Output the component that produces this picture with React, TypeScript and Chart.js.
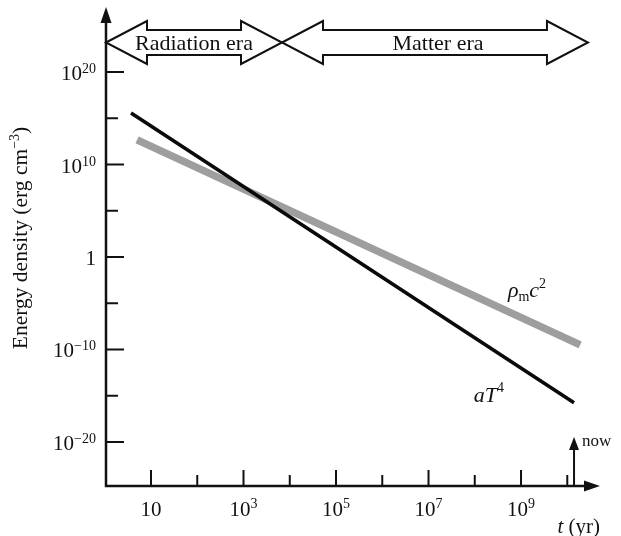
import React, { useEffect, useRef } from "react";
import { Chart, registerables } from "chart.js";

Chart.register(...registerables);

// ---- data ----
const radiationT = [3.7, 1.4e10];
const radiationDensity = [3.7e15, 1.7e-16];
const matterT = [5.0, 1.9e10];
const matterDensity = [4.5e12, 3.1e-10];

const X_MIN = 1.064;
const X_MAX = 5.1e10;
const Y_MIN = 1.74e-25;
const Y_MAX = 1.07e27;

const Y_TICK_MAJOR = [1e-20, 1e-10, 1, 1e10, 1e20];
const Y_TICK_LABELS: [string, string][] = [
  ["10", "\u221220"],
  ["10", "\u221210"],
  ["1", ""],
  ["10", "10"],
  ["10", "20"],
];
const Y_TICK_MINOR = [1e-15, 1e-5, 1e5, 1e15];
const X_TICK_MAJOR = [10, 1e3, 1e5, 1e7, 1e9];
const X_TICK_LABELS: [string, string][] = [
  ["10", ""],
  ["10", "3"],
  ["10", "5"],
  ["10", "7"],
  ["10", "9"],
];
const X_TICK_MINOR = [100, 1e4, 1e6, 1e8, 1e10];

const ERA_BOUNDARY = 6.8e3; // radiation/matter equality
const ERA_END = 2.8e10;
const NOW_T = 1.4e10;
const RHO_LABEL_AT = { x: 5.2e8, y: 4.8e-5 };
const AT4_LABEL_AT = { x: 9.5e7, y: 2.1e-16 };

const SERIF = "'Liberation Serif', 'DejaVu Serif', serif";

type Seg = { t: string; size: number; dy?: number; italic?: boolean };

function drawRich(ctx: CanvasRenderingContext2D, segs: Seg[], x: number, y: number, align: "left" | "center" | "right") {
  ctx.textAlign = "left";
  ctx.textBaseline = "alphabetic";
  const widths = segs.map((s) => {
    ctx.font = `${s.italic ? "italic " : ""}${s.size}px ${SERIF}`;
    return ctx.measureText(s.t).width;
  });
  const total = widths.reduce((a, b) => a + b, 0);
  let cx = align === "left" ? x : align === "center" ? x - total / 2 : x - total;
  segs.forEach((s, i) => {
    ctx.font = `${s.italic ? "italic " : ""}${s.size}px ${SERIF}`;
    ctx.fillText(s.t, cx, y + (s.dy || 0));
    cx += widths[i];
  });
}

function doubleArrow(ctx: CanvasRenderingContext2D, x1: number, x2: number, cy: number) {
  const h = 41, s = 12.5, H = 21.5;
  ctx.beginPath();
  ctx.moveTo(x1, cy);
  ctx.lineTo(x1 + h, cy - H);
  ctx.lineTo(x1 + h, cy - s);
  ctx.lineTo(x2 - h, cy - s);
  ctx.lineTo(x2 - h, cy - H);
  ctx.lineTo(x2, cy);
  ctx.lineTo(x2 - h, cy + H);
  ctx.lineTo(x2 - h, cy + s);
  ctx.lineTo(x1 + h, cy + s);
  ctx.lineTo(x1 + h, cy + H);
  ctx.closePath();
  ctx.fillStyle = "#fff";
  ctx.fill();
  ctx.lineWidth = 2;
  ctx.strokeStyle = "#111";
  ctx.stroke();
}

const decorPlugin = {
  id: "decor",
  afterDraw(chart: any) {
    const { ctx, chartArea } = chart;
    const { left, right, top, bottom } = chartArea;
    const xs = chart.scales.x;
    const ys = chart.scales.y;
    ctx.save();
    ctx.strokeStyle = "#111";
    ctx.fillStyle = "#111";
    ctx.lineCap = "butt";

    // axes
    ctx.lineWidth = 2.5;
    ctx.beginPath();
    ctx.moveTo(left, bottom);
    ctx.lineTo(left, top + 12);
    ctx.moveTo(left - 1.25, bottom);
    ctx.lineTo(right - 12, bottom);
    ctx.stroke();
    ctx.beginPath();
    ctx.moveTo(left, top);
    ctx.lineTo(left - 5.5, top + 16);
    ctx.lineTo(left + 5.5, top + 16);
    ctx.closePath();
    ctx.fill();
    ctx.beginPath();
    ctx.moveTo(right, bottom);
    ctx.lineTo(right - 16, bottom - 5.5);
    ctx.lineTo(right - 16, bottom + 5.5);
    ctx.closePath();
    ctx.fill();

    // ticks
    ctx.lineWidth = 2;
    ctx.beginPath();
    Y_TICK_MAJOR.forEach((v) => {
      const py = ys.getPixelForValue(v);
      ctx.moveTo(left, py);
      ctx.lineTo(left + 18, py);
    });
    Y_TICK_MINOR.forEach((v) => {
      const py = ys.getPixelForValue(v);
      ctx.moveTo(left, py);
      ctx.lineTo(left + 12, py);
    });
    X_TICK_MAJOR.forEach((v) => {
      const px = xs.getPixelForValue(v);
      ctx.moveTo(px, bottom);
      ctx.lineTo(px, bottom - 16);
    });
    X_TICK_MINOR.forEach((v) => {
      const px = xs.getPixelForValue(v);
      ctx.moveTo(px, bottom);
      ctx.lineTo(px, bottom - 11);
    });
    ctx.stroke();

    // tick labels
    ctx.fillStyle = "#111";
    Y_TICK_MAJOR.forEach((v, i) => {
      const py = ys.getPixelForValue(v);
      const [b, e] = Y_TICK_LABELS[i];
      const segs: Seg[] = [{ t: b, size: 21 }];
      if (e) segs.push({ t: e, size: 14, dy: -7 });
      drawRich(ctx, segs, left - 10, py + 8, "right");
    });
    X_TICK_MAJOR.forEach((v, i) => {
      const px = xs.getPixelForValue(v);
      const [b, e] = X_TICK_LABELS[i];
      const segs: Seg[] = [{ t: b, size: 21 }];
      if (e) segs.push({ t: e, size: 14, dy: -8 });
      drawRich(ctx, segs, px, bottom + 30, "center");
    });

    // axis titles
    ctx.save();
    ctx.translate(27, 238);
    ctx.rotate(-Math.PI / 2);
    drawRich(
      ctx,
      [
        { t: "Energy density (erg cm", size: 21.5 },
        { t: "\u22123", size: 14, dy: -8 },
        { t: ")", size: 21.5 },
      ],
      0,
      0,
      "center"
    );
    ctx.restore();
    drawRich(
      ctx,
      [
        { t: "t", size: 21, italic: true },
        { t: " (yr)", size: 21 },
      ],
      right,
      533,
      "right"
    );

    // now marker
    const nx = xs.getPixelForValue(NOW_T);
    ctx.lineWidth = 2;
    ctx.beginPath();
    ctx.moveTo(nx, bottom);
    ctx.lineTo(nx, bottom - 38);
    ctx.stroke();
    ctx.beginPath();
    ctx.moveTo(nx, bottom - 49);
    ctx.lineTo(nx - 5, bottom - 36);
    ctx.lineTo(nx + 5, bottom - 36);
    ctx.closePath();
    ctx.fill();
    drawRich(ctx, [{ t: "now", size: 17 }], nx + 8, bottom - 40, "left");

    // series labels
    const rx = xs.getPixelForValue(RHO_LABEL_AT.x);
    const ry = ys.getPixelForValue(RHO_LABEL_AT.y);
    drawRich(
      ctx,
      [
        { t: "\u03C1", size: 22, italic: true },
        { t: "m", size: 14, dy: 4 },
        { t: "c", size: 22, italic: true },
        { t: "2", size: 14, dy: -9 },
      ],
      rx,
      ry,
      "left"
    );
    const ax = xs.getPixelForValue(AT4_LABEL_AT.x);
    const ay = ys.getPixelForValue(AT4_LABEL_AT.y);
    drawRich(
      ctx,
      [
        { t: "aT", size: 22, italic: true },
        { t: "4", size: 14, dy: -10 },
      ],
      ax,
      ay,
      "left"
    );

    // era arrows
    const bx = xs.getPixelForValue(ERA_BOUNDARY);
    const ex = xs.getPixelForValue(ERA_END);
    doubleArrow(ctx, left, bx, 42.5);
    doubleArrow(ctx, bx, ex, 42.5);
    ctx.fillStyle = "#111";
    drawRich(ctx, [{ t: "Radiation era", size: 22 }], (left + bx) / 2, 49.5, "center");
    drawRich(ctx, [{ t: "Matter era", size: 22 }], (bx + ex) / 2 + 3, 49.5, "center");

    ctx.restore();
  },
};

export default function App() {
  const ref = useRef<HTMLCanvasElement>(null);
  useEffect(() => {
    if (!ref.current) return;
    const chart = new Chart(ref.current, {
      type: "line",
      data: {
        datasets: [
          {
            label: "aT^4",
            data: radiationT.map((t, i) => ({ x: t, y: radiationDensity[i] })),
            borderColor: "#0a0a0a",
            borderWidth: 3.6,
            pointRadius: 0,
            tension: 0,
            borderCapStyle: "butt",
            order: 0,
          },
          {
            label: "rho_m c^2",
            data: matterT.map((t, i) => ({ x: t, y: matterDensity[i] })),
            borderColor: "#9e9e9e",
            borderWidth: 7.5,
            pointRadius: 0,
            tension: 0,
            borderCapStyle: "butt",
            order: 1,
          },
        ],
      },
      options: {
        responsive: false,
        animation: false,
        events: [],
        layout: { padding: { left: 106, right: 21, top: 7, bottom: 50 } },
        plugins: { legend: { display: false }, tooltip: { enabled: false } },
        scales: {
          x: { type: "logarithmic", min: X_MIN, max: X_MAX, display: false },
          y: { type: "logarithmic", min: Y_MIN, max: Y_MAX, display: false },
        },
      },
      plugins: [decorPlugin],
    } as any);
    return () => chart.destroy();
  }, []);
  return (
    <div style={{ position: "fixed", left: 0, top: 0, width: 621, height: 536, background: "#fff" }}>
      <canvas ref={ref} width={621} height={536} />
    </div>
  );
}
